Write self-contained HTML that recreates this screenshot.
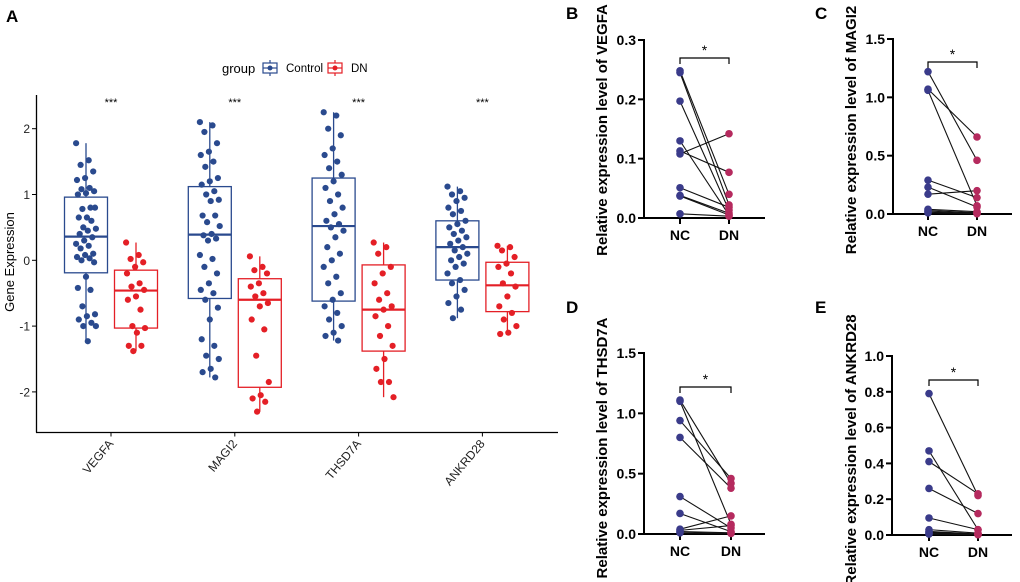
<!DOCTYPE html>
<html><head><meta charset="utf-8"><style>
html,body{margin:0;padding:0;background:#fff;}
svg{display:block;font-family:"Liberation Sans",Arial,sans-serif;}
</style></head><body>
<svg id="fig" width="1020" height="582" viewBox="0 0 1020 582"></svg>
<script>
// ---------- Panel A data ----------
const genes = ["VEGFA","MAGI2","THSD7A","ANKRD28"];
const yTicksA = [-2,-1,0,1,2];
const ctrlBox = [[-1.23,-0.19,0.36,0.96,1.78],[-1.78,-0.58,0.39,1.12,2.1],[-1.22,-0.62,0.52,1.25,2.25],[-0.88,-0.3,0.2,0.6,1.12]];
const dnBox = [[-1.38,-1.03,-0.46,-0.15,0.27],[-2.3,-1.93,-0.6,-0.28,0.06],[-2.08,-1.38,-0.75,-0.07,0.27],[-1.12,-0.78,-0.38,-0.03,0.22]];
const ctrlPts = [
 [1.78,1.52,1.45,1.35,1.25,1.22,1.1,1.08,1.05,1.02,1.0,0.8,0.78,0.8,0.65,0.65,0.6,0.5,0.48,0.45,0.4,0.35,0.3,0.25,0.22,0.18,0.1,0.08,0.05,0.03,0.0,-0.03,-0.25,-0.42,-0.45,-0.7,-0.82,-0.85,-0.9,-0.95,-1.0,-1.0,-1.23],
 [2.1,2.05,1.95,1.78,1.65,1.6,1.5,1.42,1.25,1.2,1.15,1.05,1.0,0.92,0.9,0.68,0.68,0.58,0.52,0.4,0.38,0.33,0.3,0.08,0.02,-0.1,-0.2,-0.35,-0.45,-0.5,-0.6,-0.72,-0.9,-1.2,-1.3,-1.45,-1.5,-1.65,-1.7,-1.78],
 [2.25,2.2,2.0,1.9,1.7,1.6,1.5,1.4,1.3,1.2,1.1,1.0,0.9,0.8,0.7,0.6,0.55,0.5,0.45,0.35,0.2,0.1,0.0,-0.1,-0.25,-0.35,-0.5,-0.6,-0.7,-0.8,-0.9,-1.0,-1.1,-1.15,-1.22],
 [1.12,1.05,1.0,0.95,0.9,0.8,0.75,0.7,0.6,0.55,0.5,0.45,0.4,0.35,0.3,0.25,0.2,0.15,0.1,0.05,0.0,-0.05,-0.1,-0.2,-0.3,-0.35,-0.45,-0.55,-0.65,-0.75,-0.88]];
const dnPts = [
 [0.27,0.08,0.02,-0.03,-0.1,-0.2,-0.35,-0.4,-0.45,-0.55,-0.6,-0.75,-1.0,-1.03,-1.1,-1.3,-1.3,-1.38],
 [0.06,-0.1,-0.15,-0.2,-0.35,-0.4,-0.5,-0.55,-0.65,-0.7,-0.9,-1.05,-1.45,-1.85,-2.05,-2.1,-2.15,-2.3],
 [0.27,0.2,0.1,-0.1,-0.2,-0.35,-0.5,-0.6,-0.7,-0.75,-0.85,-1.0,-1.15,-1.3,-1.5,-1.65,-1.85,-1.85,-2.08],
 [0.22,0.2,0.15,0.05,-0.05,-0.1,-0.2,-0.35,-0.4,-0.55,-0.7,-0.8,-0.9,-1.0,-1.1,-1.12]];

// ---------- Paired panels data ----------
const pairGenes = ["VEGFA","MAGI2","THSD7A","ANKRD28"];
const pairLetters = ["B","C","D","E"];
const pairMax = [0.3,1.5,1.5,1.0];
const pairTicks = [[0,0.1,0.2,0.3],[0,0.5,1.0,1.5],[0,0.5,1.0,1.5],[0,0.2,0.4,0.6,0.8,1.0]];
const ncVals = [
 [0.248,0.245,0.197,0.13,0.113,0.108,0.051,0.038,0.037,0.007],
 [1.22,1.07,1.06,0.29,0.23,0.17,0.04,0.03,0.02,0.01],
 [1.11,1.10,0.94,0.8,0.31,0.17,0.04,0.03,0.02,0.01],
 [0.79,0.47,0.41,0.26,0.095,0.03,0.02,0.015,0.01,0.005]];
const dnVals = [
 [0.04,0.022,0.013,0.005,0.077,0.142,0.018,0.008,0.005,0.003],
 [0.46,0.66,0.07,0.14,0.06,0.2,0.02,0.01,0.005,0.003],
 [0.42,0.08,0.46,0.38,0.05,0.02,0.15,0.07,0.01,0.005],
 [0.22,0.03,0.23,0.12,0.03,0.01,0.005,0.004,0.003,0.002]];

const NS="http://www.w3.org/2000/svg";
const svg=document.getElementById('fig');
function mk(tag,at,parent){const e=document.createElementNS(NS,tag);for(const k in at)e.setAttribute(k,at[k]);(parent||svg).appendChild(e);return e;}
function txt(s,at,parent){const e=mk('text',at,parent);e.textContent=s;return e;}

// ---------- Panel A ----------
const gA=mk('g',{});


const y0=260.3, ppu=65.8;
const yA=v=>y0-v*ppu;
const xA=i=>111+i*123.8;
const CB='#2a4a8e', CR='#e41f26';
let t=txt('A',{x:6,y:22,'font-size':17,'font-weight':'bold'},gA);


let l=mk('line',{x1:36.5,y1:95,x2:36.5,y2:432.5,stroke:'#000','stroke-width':1.3},gA);


l=mk('line',{x1:36,y1:432.5,x2:558,y2:432.5,stroke:'#000','stroke-width':1.3},gA);


yTicksA.forEach(v=>{
  const tk=mk('line',{x1:32,x2:36,y1:yA(v),y2:yA(v),stroke:'#000'},gA);
  
  
  const tl=txt(String(v),{x:30,y:yA(v)+4.5,'font-size':12,'text-anchor':'end',fill:'#222'},gA);
  
  
});
t=txt('Gene Expression',{x:0,y:0,'font-size':13,'text-anchor':'middle',transform:'translate(14,262) rotate(-90)'},gA);


function drawBox(cx,s,col,name){
  const g=mk('g',{},gA);
  
  
  mk('line',{x1:cx,x2:cx,y1:yA(s[4]),y2:yA(s[3]),stroke:col,'stroke-width':1.3},g);
  mk('line',{x1:cx,x2:cx,y1:yA(s[1]),y2:yA(s[0]),stroke:col,'stroke-width':1.3},g);
  mk('rect',{x:cx-21.5,y:yA(s[3]),width:43,height:yA(s[1])-yA(s[3]),fill:'none',stroke:col,'stroke-width':1.3},g);
  mk('line',{x1:cx-21.5,x2:cx+21.5,y1:yA(s[2]),y2:yA(s[2]),stroke:col,'stroke-width':2.2},g);
}
function drawPts(cx,arr,col,name){
  arr.forEach((v,i)=>{
    const jit=((i*37)%23-11)*0.9;
    const c=mk('circle',{cx:cx+jit,cy:yA(v),r:3.1,fill:col},gA);
    
    
  });
}
genes.forEach((g,i)=>{
  const cx=xA(i);
  drawBox(cx-25,ctrlBox[i],CB,'box-control-'+g.toLowerCase());
  drawBox(cx+25,dnBox[i],CR,'box-dn-'+g.toLowerCase());
  drawPts(cx-25,ctrlPts[i],CB,'point-control');
  drawPts(cx+25,dnPts[i],CR,'point-dn');
  const s=txt('***',{x:cx,y:106,'font-size':11,'text-anchor':'middle'},gA);
  
  
  const tk=mk('line',{x1:cx,x2:cx,y1:432.5,y2:436.5,stroke:'#000'},gA);
  
  
  const xl=txt(g,{x:0,y:0,'font-size':12,'text-anchor':'end',fill:'#222',transform:`translate(${cx+3},${444}) rotate(-50)`},gA);
  
  
});
// legend
const lg=mk('g',{},gA);


t=txt('group',{x:222,y:73,'font-size':13},lg);


[[263,'Control',CB,286],[328,'DN',CR,351]].forEach(([x,lab,col,tx])=>{
  const e=mk('g',{},lg);
  
  
  mk('line',{x1:x+7,x2:x+7,y1:60,y2:76,stroke:col,'stroke-width':1.2},e);
  mk('rect',{x:x,y:63,width:14,height:10,fill:'#fff',stroke:col,'stroke-width':1.2},e);
  mk('line',{x1:x,x2:x+14,y1:68,y2:68,stroke:col,'stroke-width':1.2},e);
  mk('circle',{cx:x+7,cy:68,r:2.5,fill:col},e);
  txt(lab,{x:tx,y:72,'font-size':11.5},e);
});

// ---------- Paired panels ----------
const layouts=[
 {ax:644,top:40,bot:218,xr:765,nc:680,dn:729,br:58,lx:566,ly:19,ty:130,tx:607},
 {ax:893,top:39,bot:214,xr:1012,nc:928,dn:977,br:62,lx:815,ly:19,ty:130,tx:856},
 {ax:644,top:353,bot:534,xr:765,nc:680,dn:731,br:387,lx:566,ly:313,ty:448,tx:607},
 {ax:892,top:356,bot:535,xr:1012,nc:929,dn:978,br:380,lx:815,ly:313,ty:450,tx:856}];
const NCc='#3a3b8a', DNc='#b52a5e';
pairGenes.forEach((g,p)=>{
  const L=layouts[p];
  const gp=mk('g',{});
  
  
  const yP=v=>L.bot-(v/pairMax[p])*(L.bot-L.top);
  let e=txt(pairLetters[p],{x:L.lx,y:L.ly,'font-size':17,'font-weight':'bold'},gp);
  
  
  e=mk('line',{x1:L.ax,x2:L.ax,y1:L.top-1,y2:L.bot+1,stroke:'#000','stroke-width':2},gp);
  
  
  e=mk('line',{x1:L.ax-1,x2:L.xr,y1:L.bot,y2:L.bot,stroke:'#000','stroke-width':2},gp);
  
  
  pairTicks[p].forEach(v=>{
    const tk=mk('line',{x1:L.ax-6,x2:L.ax,y1:yP(v),y2:yP(v),stroke:'#000','stroke-width':2},gp);
    
    
    const tl=txt(v.toFixed(1),{x:L.ax-8,y:yP(v)+5,'font-size':14,'font-weight':'bold','text-anchor':'end'},gp);
    
    
  });
  [[L.nc,'NC'],[L.dn,'DN']].forEach(([x,lab])=>{
    const tk=mk('line',{x1:x,x2:x,y1:L.bot,y2:L.bot+6,stroke:'#000','stroke-width':2},gp);
    
    
    const tl=txt(lab,{x:x,y:L.bot+22,'font-size':14,'font-weight':'bold','text-anchor':'middle'},gp);
    
    
  });
  e=txt('Relative expression level of '+g,{x:0,y:0,'font-size':15,'font-weight':'bold','text-anchor':'middle',transform:`translate(${L.tx},${L.ty}) rotate(-90)`},gp);
  
  
  e=mk('path',{d:`M${L.nc},${L.br+6}V${L.br}H${L.dn}V${L.br+6}`,fill:'none',stroke:'#000','stroke-width':1.2},gp);
  
  
  e=txt('*',{x:(L.nc+L.dn)/2,y:L.br-3,'font-size':14,'text-anchor':'middle'},gp);
  
  
  ncVals[p].forEach((v,i)=>{
    const ln=mk('line',{x1:L.nc,y1:yP(v),x2:L.dn,y2:yP(dnVals[p][i]),stroke:'#111','stroke-width':1.1},gp);
    
    
  });
  ncVals[p].forEach(v=>{
    const c=mk('circle',{cx:L.nc,cy:yP(v),r:3.8,fill:NCc},gp);
    
    
  });
  dnVals[p].forEach(v=>{
    const c=mk('circle',{cx:L.dn,cy:yP(v),r:3.8,fill:DNc},gp);
    
    
  });
});
</script>
</body></html>
